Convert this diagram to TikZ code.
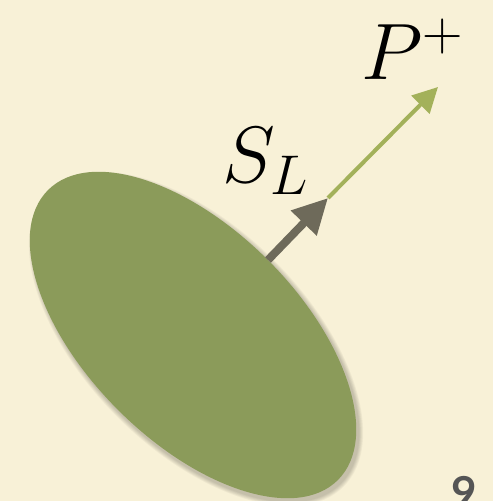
\RequirePackage{fix-cm}
\documentclass[tikz,border=0pt]{standalone}
\usepackage{fontspec}
\newfontfamily\pagefont{Lato}
\usetikzlibrary{arrows.meta}
\definecolor{bgcream}{RGB}{248,241,215}
\definecolor{blobgreen}{RGB}{139,155,90}
\definecolor{spingray}{RGB}{110,106,90}
\definecolor{momgreen}{RGB}{163,177,90}
\definecolor{pagegray}{RGB}{85,85,85}
\tikzset{
  biglabel/.style={inner sep=0pt, font=\fontsize{80}{96}\selectfont},
  spinarrow/.style={draw=spingray, line width=8pt, -{Triangle[length=35pt,width=34pt]}, color=spingray},
  momarrow/.style={draw=momgreen, line width=4pt, -{Triangle[length=25pt,width=25pt]}, color=momgreen},
}
\begin{document}
\begin{tikzpicture}[x=1pt,y=1pt]
  \useasboundingbox (0,0) rectangle (493,501);
  \clip (0,0) rectangle (493,501);
  \fill[bgcream] (0,0) rectangle (493,501);
  % soft shadow
  \foreach \i in {1,...,6}{
    \fill[black, opacity=0.035] (196,162) ellipse [x radius={204+\i*0.8}, y radius={106+\i*0.8}, rotate=-45];
  }
  \fill[blobgreen] (193,166) ellipse [x radius=205, y radius=106, rotate=-45];
  \coordinate (base) at (268,241);
  \coordinate (mid) at (328,303);
  \coordinate (tip) at (438,414);
  \draw[momarrow] (mid) -- (tip);
  \draw[spinarrow] (base) -- (mid);
  \node[biglabel, anchor=base west] (sl) at (222,318) {$S_L$};
  \node[biglabel, anchor=base west] (pp) at (361,421) {$P^+$};
  \node[inner sep=0pt, anchor=base west, text=pagegray, font=\pagefont\bfseries\fontsize{44}{50}\selectfont] (pg) at (451,-8) {9};
\end{tikzpicture}
\end{document}
